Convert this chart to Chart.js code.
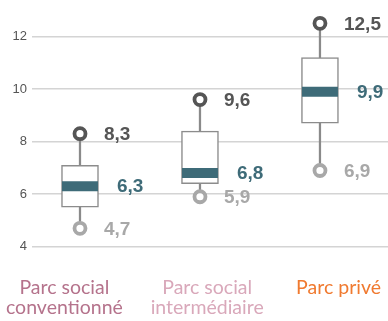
<!DOCTYPE html>
<html lang="fr">
<head>
<meta charset="utf-8">
<title>Parc de logements</title>
<script src="https://cdn.jsdelivr.net/npm/chart.js@4.4.1/dist/chart.umd.min.js"></script>
<style>
  html, body { margin: 0; padding: 0; background: #fff; }
  #wrap { width: 388px; height: 321px; position: relative; }
</style>
</head>
<body>
<div id="wrap"><canvas id="boxChart"></canvas></div>
<script>
// Distribution par type de parc
const categories = [['Parc social', 'conventionné'], ['Parc social', 'intermédiaire'], ['Parc privé']];
const maxValues = [8.3, 9.6, 12.5];
const q3Values = [7.1, 8.4, 11.2];
const medianValues = [6.3, 6.8, 9.9];
const q1Values = [5.5, 6.4, 8.7];
const minValues = [4.7, 5.9, 6.9];
const yTicks = [4, 6, 8, 10, 12];

// where each category name sits along the x scale
const labelPositions = [-0.13, 1.06, 2.155];
const labelColors = ['#b5738c', '#d9a8ba', '#f07a30'];

const DARK = '#555555';
const LIGHT = '#a8a8a8';
const TEAL = '#3e6b78';
const fmt = v => v.toFixed(1).replace('.', ',');

const pts = arr => arr.map((v, i) => ({ x: i, y: v }));
const spans = (lo, hi) => lo.map((v, i) => ({ x: i, y: [v, hi[i]] }));

// value text next to the circles and the median bands
const valueLabels = {
    id: 'valueLabels',
    afterDatasetsDraw(chart) {
        const ctx = chart.ctx;
        ctx.save();
        ctx.font = 'bold 19px "Liberation Sans", Arial, sans-serif';
        ctx.textBaseline = 'middle';
        ctx.textAlign = 'left';
        chart.data.datasets.forEach((ds, i) => {
            if (!ds.labelColor) return;
            chart.getDatasetMeta(i).data.forEach((el, j) => {
                ctx.fillStyle = ds.labelColor;
                ctx.fillText(fmt(ds.data[j].y), el.x + ds.labelOffset, el.y + 1);
            });
        });
        ctx.restore();
    }
};

// category names under the plot, two lines max
const categoryLabels = {
    id: 'categoryLabels',
    afterDraw(chart) {
        const ctx = chart.ctx;
        const xs = chart.scales.x;
        const base = chart.chartArea.bottom + 47.5;
        ctx.save();
        ctx.font = '19.5px Lato, sans-serif';
        ctx.textAlign = 'center';
        ctx.textBaseline = 'alphabetic';
        categories.forEach((lines, i) => {
            ctx.fillStyle = labelColors[i];
            const x = xs.getPixelForValue(labelPositions[i]);
            lines.forEach((line, k) => ctx.fillText(line, x, base + k * 20));
        });
        ctx.restore();
    }
};

const ctx = document.getElementById('boxChart').getContext('2d');
new Chart(ctx, {
    type: 'bar',
    data: {
        datasets: [
            {
                type: 'line', label: 'max', data: pts(maxValues), order: 0,
                showLine: false, pointRadius: 5.5, pointHoverRadius: 5.5, pointBorderWidth: 3.8,
                pointBackgroundColor: '#fff', pointBorderColor: DARK,
                labelColor: DARK, labelOffset: 24
            },
            {
                type: 'line', label: 'min', data: pts(minValues), order: 0,
                showLine: false, pointRadius: 5.5, pointHoverRadius: 5.5, pointBorderWidth: 3.8,
                pointBackgroundColor: '#fff', pointBorderColor: LIGHT,
                labelColor: LIGHT, labelOffset: 24
            },
            {
                type: 'line', label: 'médiane', data: pts(medianValues), order: 1,
                showLine: false, pointStyle: 'line', pointRadius: 18, pointHoverRadius: 18,
                pointBorderWidth: 10, pointBorderColor: TEAL, pointBackgroundColor: TEAL,
                labelColor: TEAL, labelOffset: 37
            },
            {
                label: 'boîte', data: spans(q1Values, q3Values), order: 2, grouped: false,
                barThickness: 37, backgroundColor: '#fff', borderColor: '#8c8c8c',
                borderWidth: 1.5, borderSkipped: false
            },
            {
                label: 'moustache', data: spans(minValues, maxValues), order: 3, grouped: false,
                barThickness: 1.6, backgroundColor: '#8a8a8a', borderWidth: 0
            }
        ]
    },
    options: {
        responsive: true,
        maintainAspectRatio: false,
        animation: false,
        layout: { padding: { top: 0, left: 0, right: 0, bottom: 74.3 }, autoPadding: false },
        plugins: { legend: { display: false }, tooltip: { enabled: false } },
        scales: {
            x: {
                type: 'linear',
                display: false,
                min: -0.4,
                max: 2.567,
                offset: false
            },
            y: {
                min: 4,
                max: 12.9,
                afterBuildTicks: axis => { axis.ticks = yTicks.map(v => ({ value: v })); },
                afterFit: axis => { axis.width = 32; },
                grid: { color: '#d4d4d4', lineWidth: 1.5, drawTicks: false },
                border: { display: false },
                ticks: {
                    padding: 5,
                    color: DARK,
                    font: { family: '"Liberation Sans", Arial, sans-serif', size: 13 }
                }
            }
        }
    },
    plugins: [valueLabels, categoryLabels]
});
</script>
</body>
</html>
